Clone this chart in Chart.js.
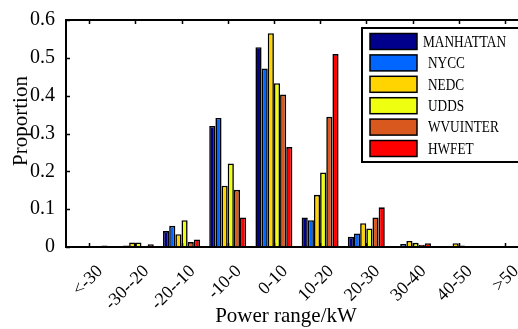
<!DOCTYPE html>
<html>
<head>
<meta charset="utf-8">
<script src="https://cdn.jsdelivr.net/npm/chart.js@4.4.1/dist/chart.umd.min.js"></script>
<style>
html,body{margin:0;padding:0;background:#fff;overflow:hidden;width:518px;height:329px;}
canvas{display:block;}
</style>
</head>
<body>
<canvas id="c" width="540" height="329"></canvas>
<script>
const categories = ['<-30','-30--20','-20--10','-10-0','0-10','10-20','20-30','30-40','40-50','>50'];
const seriesNames = ['MANHATTAN','NYCC','NEDC','UDDS','WVUINTER','HWFET'];
const manhattan = [0, 0.001, 0.042, 0.320, 0.528, 0.078, 0.027, 0.002, 0.001, 0];
const nycc      = [0, 0.004, 0.056, 0.341, 0.472, 0.071, 0.036, 0.008, 0.002, 0];
const nedc      = [0, 0.012, 0.034, 0.162, 0.565, 0.138, 0.063, 0.016, 0.010, 0];
const udds      = [0, 0.012, 0.071, 0.221, 0.433, 0.197, 0.049, 0.011, 0.004, 0];
const wvuinter  = [0, 0.002, 0.013, 0.151, 0.403, 0.344, 0.078, 0.006, 0.001, 0];
const hwfet     = [0.004, 0.007, 0.020, 0.078, 0.264, 0.510, 0.105, 0.010, 0, 0];
const yTicks = [0, 0.1, 0.2, 0.3, 0.4, 0.5, 0.6];
const xTitle = 'Power range/kW';
const yTitle = 'Proportion';

const colors = ['#00008C', '#0066FF', '#FFD400', '#EEFF10', '#D9581E', '#FF0000'];
const allSeries = [manhattan, nycc, nedc, udds, wvuinter, hwfet];
const FONT = '"Liberation Serif", "Times New Roman", serif';

const framePlugin = {
  id: 'frame',
  afterDatasetsDraw(chart) {
    const {ctx, chartArea: a, scales: {x, y}} = chart;
    ctx.save();
    ctx.strokeStyle = '#000';
    ctx.lineWidth = 2;
    ctx.strokeRect(a.left, a.top, a.right - a.left, a.bottom - a.top);
    ctx.lineWidth = 1.5;
    ctx.beginPath();
    yTicks.forEach(v => {
      const py = Math.round(y.getPixelForValue(v)) + 0.5;
      ctx.moveTo(a.left, py); ctx.lineTo(a.left + 4, py);
      ctx.moveTo(a.right, py); ctx.lineTo(a.right - 4, py);
    });
    categories.forEach((c, i) => {
      const px = Math.round(x.getPixelForValue(i)) + 0.5;
      ctx.moveTo(px, a.bottom); ctx.lineTo(px, a.bottom - 4);
      ctx.moveTo(px, a.top); ctx.lineTo(px, a.top + 4);
    });
    ctx.stroke();

    // legend
    const lx = 362, ly = 28, lw = 170, lh = 134;
    ctx.fillStyle = '#fff';
    ctx.fillRect(lx, ly, lw, lh);
    ctx.lineWidth = 2;
    ctx.strokeRect(lx, ly, lw, lh);
    ctx.font = '16px ' + FONT;
    ctx.textBaseline = 'middle';
    ctx.textAlign = 'left';
    chart.data.datasets.forEach((ds, i) => {
      const ry = 33.5 + i * 21.4;
      ctx.fillStyle = ds.backgroundColor;
      ctx.fillRect(370, ry, 47, 16);
      ctx.lineWidth = 1.5;
      ctx.strokeStyle = '#000';
      ctx.strokeRect(370, ry, 47, 16);
      ctx.fillStyle = '#000';
      ctx.save();
      ctx.translate(i === 0 ? 423 : 428, ry + 9);
      ctx.scale(0.83, 1);
      ctx.fillText(ds.label, 0, 0);
      ctx.restore();
    });

    // axis titles
    ctx.fillStyle = '#000';
    ctx.font = '21px ' + FONT;
    ctx.textAlign = 'center';
    ctx.textBaseline = 'middle';
    ctx.fillText(xTitle, 286, 316);
    ctx.save();
    ctx.translate(21, 121);
    ctx.rotate(-Math.PI / 2);
    ctx.fillText(yTitle, 0, 0);
    ctx.restore();
    ctx.restore();
  }
};

new Chart(document.getElementById('c'), {
  type: 'bar',
  data: {
    labels: categories,
    datasets: seriesNames.map((n, i) => ({
      label: n,
      data: allSeries[i],
      backgroundColor: colors[i],
      borderColor: '#000',
      borderWidth: 1.6,
      borderSkipped: 'bottom',
      categoryPercentage: 0.8,
      barPercentage: 1.0
    }))
  },
  options: {
    responsive: false,
    animation: false,
    layout: {padding: {left: 0, right: 12, top: 20, bottom: 0}},
    plugins: {legend: {display: false}, tooltip: {enabled: false}},
    scales: {
      x: {
        grid: {display: false},
        border: {display: false},
        ticks: {
          color: '#000',
          font: {family: FONT, size: 18},
          minRotation: 45, maxRotation: 45,
          padding: 6,
          labelOffset: 11,
          autoSkip: false
        },
        afterFit(s) { s.height = 82; }
      },
      y: {
        min: 0, max: 0.6,
        grid: {display: false},
        border: {display: false},
        afterBuildTicks(s) { s.ticks = yTicks.map(v => ({value: v})); },
        ticks: {
          color: '#000',
          font: {family: FONT, size: 20},
          padding: 3,
          callback: v => String(v)
        },
        afterFit(s) { s.width = 66; }
      }
    }
  },
  plugins: [framePlugin]
});
</script>
</body>
</html>
